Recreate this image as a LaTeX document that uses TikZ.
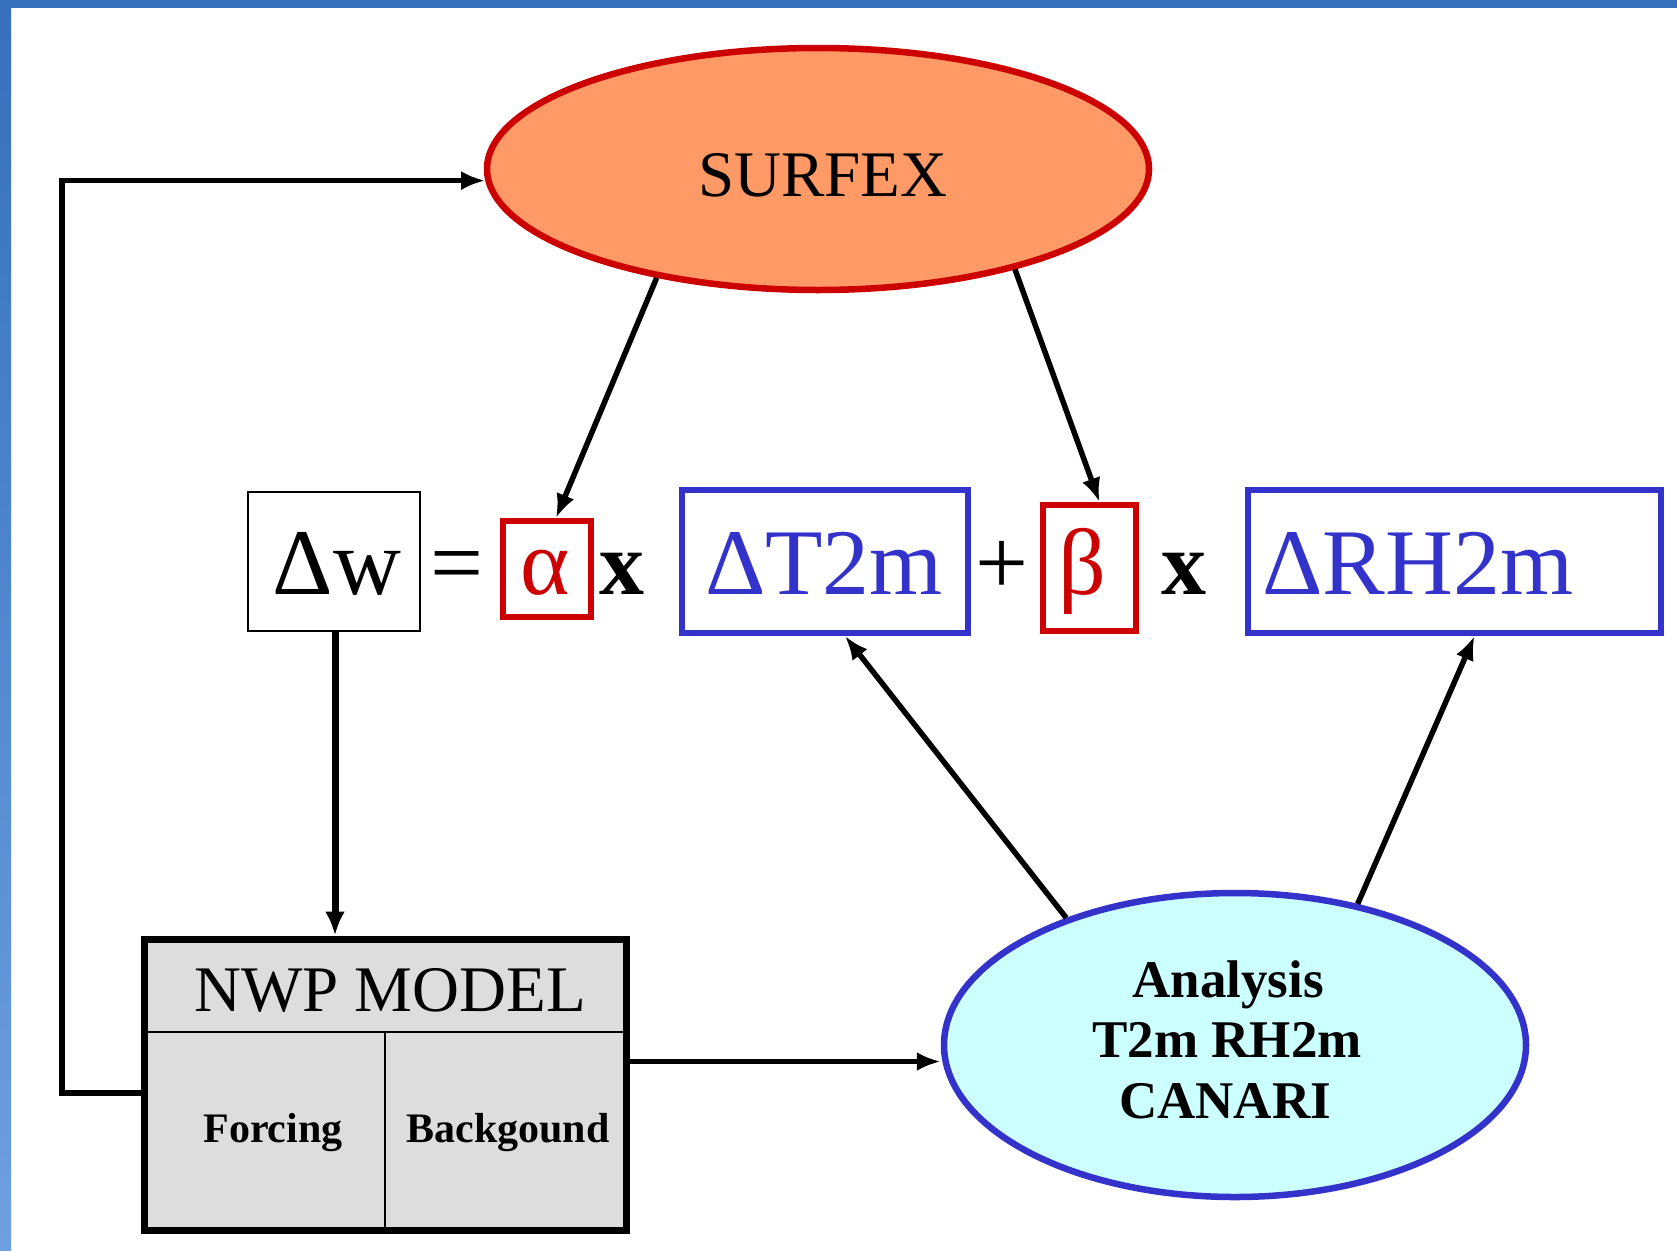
\documentclass[tikz,border=0pt]{standalone}
\usepackage{fontspec}
\setmainfont{Liberation Serif}
\usetikzlibrary{shapes.geometric,arrows.meta,calc}
\definecolor{salmon}{RGB}{255,153,102}
\definecolor{dred}{RGB}{204,0,0}
\definecolor{dblue}{RGB}{51,51,204}
\definecolor{lcyan}{RGB}{204,255,255}
\definecolor{lgrey}{RGB}{221,221,221}
\definecolor{frameA}{RGB}{52,112,188}
\definecolor{frameB}{RGB}{110,160,225}
\tikzset{
  arr/.style={line width=5.5pt,-{Latex[length=24pt,width=19pt]}},
  boxshape/.style={rectangle,inner sep=0pt},
  eqtext/.style={anchor=base,inner sep=0pt,font=\fontsize{94}{94}\selectfont},
  ovalshape/.style={ellipse,inner sep=0pt,line width=6.5pt},
}
\begin{document}
\begin{tikzpicture}[x=1pt,y=-1pt]
\useasboundingbox (0,0) rectangle (1677,1250);
\fill[white] (0,0) rectangle (1677,1250);
% blue frame
\shade[top color=frameA,bottom color=frameB] (0,0) rectangle (11,1250);
\fill[frameA] (0,0) rectangle (1677,8);

% SURFEX
\node[ovalshape,draw=dred,fill=salmon,minimum width=662pt,minimum height=242pt] (surfex) at (818,169) {};
\node[anchor=base,inner sep=0pt,font=\fontsize{65}{65}\selectfont] (surfext) at (823,196) {SURFEX};

% equation boxes
\node[boxshape,draw=black,line width=2pt,minimum width=172pt,minimum height=139pt] (dw) at (334,561.5) {};
\node[boxshape,draw=dred,line width=6pt,minimum width=88pt,minimum height=96pt] (alpha) at (547,569) {};
\node[boxshape,draw=dblue,line width=6pt,minimum width=286pt,minimum height=143pt] (dt) at (825,561.5) {};
\node[boxshape,draw=dred,line width=6pt,minimum width=93pt,minimum height=126pt] (beta) at (1089.5,568) {};
\node[boxshape,draw=dblue,line width=6pt,minimum width=413pt,minimum height=143pt] (drh) at (1454.5,561.5) {};

% equation texts
\node[eqtext] (dwt) at (337,594) {Δw};
\node[eqtext] (eqt) at (457,594) {=};
\node[eqtext,text=dred] (alphat) at (545,594) {α};
\node[eqtext,font=\fontsize{90}{90}\selectfont\bfseries] (x1) at (622,594) {x};
\node[eqtext,text=dblue] (dtt) at (824,594) {ΔT2m};
\node[eqtext] (plust) at (1002,594) {+};
\node[eqtext,text=dred] (betat) at (1082,594) {β};
\node[eqtext,font=\fontsize{90}{90}\selectfont\bfseries] (x2) at (1184,594) {x};
\node[eqtext,anchor=base west,text=dblue] (drht) at (1262,594) {ΔRH2m};

% NWP model
\node[boxshape,draw=black,fill=lgrey,line width=7pt,minimum width=482pt,minimum height=291pt] (nwp) at (385,1084.5) {};
\draw[line width=2pt] (147,1032) -- (623,1032);
\draw[line width=2pt] (385,1032) -- (385,1227);
\node[anchor=base,inner sep=0pt,font=\fontsize{65}{65}\selectfont] (nwpt) at (390,1011) {NWP MODEL};
\node[anchor=base,inner sep=0pt,font=\fontsize{42}{42}\selectfont\bfseries] (forc) at (273,1142) {Forcing};
\node[anchor=base,inner sep=0pt,font=\fontsize{42}{42}\selectfont\bfseries] (back) at (508,1142) {Backgound};

% Analysis
\node[ovalshape,draw=dblue,fill=lcyan,minimum width=582pt,minimum height=304pt] (ana) at (1235,1045) {};
\node[anchor=base,inner sep=0pt,font=\fontsize{53}{53}\selectfont\bfseries] (an1) at (1228,997) {Analysis};
\node[anchor=base,inner sep=0pt,font=\fontsize{53}{53}\selectfont\bfseries] (an2) at (1227,1057) {T2m RH2m};
\node[anchor=base,inner sep=0pt,font=\fontsize{53}{53}\selectfont\bfseries] (an3) at (1225,1118) {CANARI};

% connectors
\draw[arr] (surfex.214.3) -- ($(alpha.north)+(9,0)$);
\draw[arr] (surfex.333.9) -- ($(beta.north)+(10,0)$);
\draw[arr] (ana.143.8) -- ($(dt.south)+(20,0)$);
\draw[arr] (ana.49.5) -- ($(drh.south)+(20,0)$);
\draw[line width=7pt,-{Latex[length=24pt,width=20pt]}] ($(dw.south)+(1,0)$) -- ($(dw.south |- nwp.north)+(1,0)$);
\coordinate (nwpR) at ($(nwp.east)+(0,-23)$);
\draw[arr] (nwpR) -- (nwpR -| ana.west);
\coordinate (nwpL) at ($(nwp.west)+(0,8.5)$);
\coordinate (lc) at (62,1093);
\draw[arr] (nwpL) -- (nwpL -| lc) |- (surfex.182.8);
\end{tikzpicture}
\end{document}
